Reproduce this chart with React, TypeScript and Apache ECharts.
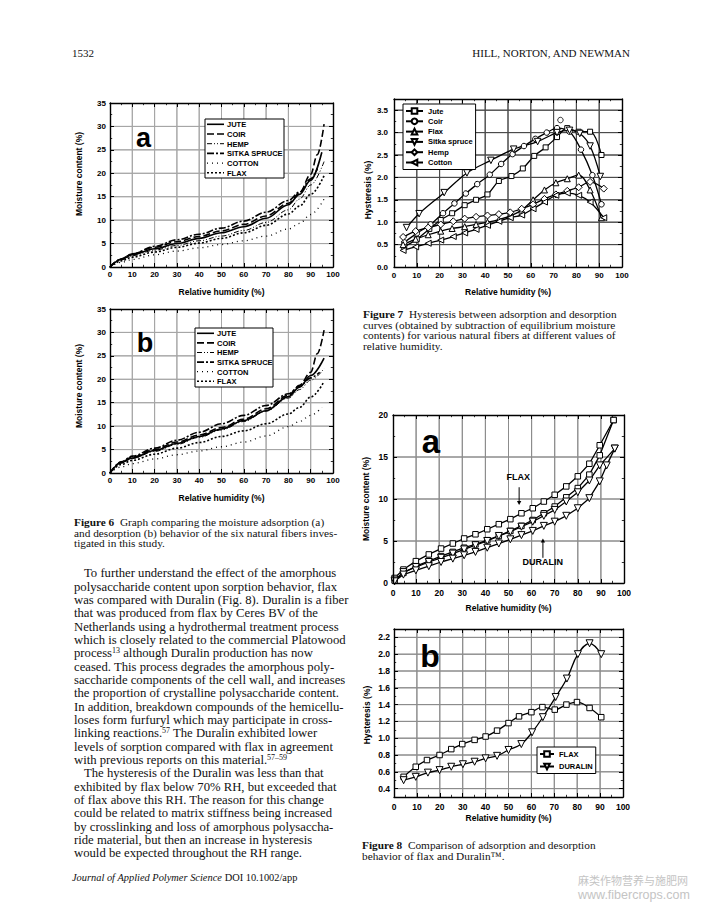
import React, { useEffect, useRef } from "react";
import * as echarts from "echarts";

const SANS = "'Liberation Sans', Arial, Helvetica, sans-serif";
const SERIF = "'Liberation Serif', 'Times New Roman', Times, serif";

/* ---------- Figure 6: moisture content (%) vs relative humidity (%) ---------- */
const fig6Names = ["JUTE", "COIR", "HEMP", "SITKA SPRUCE", "COTTON", "FLAX"];

// (a) adsorption
const adsJute = [[0, 0], [5, 1.6], [10, 2.6], [20, 3.9], [30, 5.0], [40, 6.1], [50, 7.3], [60, 8.6], [70, 10.4], [80, 13.3], [85, 15.5], [90, 18.5], [95, 24.5]];
const adsCoir = [[0, 0], [5, 1.7], [10, 2.8], [20, 4.2], [30, 5.4], [40, 6.5], [50, 7.7], [60, 9.1], [70, 10.9], [80, 13.6], [85, 15.8], [90, 19.8], [93, 24], [96, 30.5]];
const adsHemp = [[0, 0], [5, 1.5], [10, 2.4], [20, 3.6], [30, 4.6], [40, 5.6], [50, 6.6], [60, 7.8], [70, 9.5], [80, 12.2], [85, 14.5], [90, 17.5], [96, 22.5]];
const adsSitka = [[0, 0], [5, 1.7], [10, 2.8], [20, 4.4], [30, 5.8], [40, 7.0], [50, 8.3], [60, 9.8], [70, 11.7], [80, 14.2], [85, 16.0], [90, 18.8], [93, 21.0]];
const adsCotton = [[0, 0], [5, 1.0], [10, 1.6], [20, 2.6], [30, 3.4], [40, 4.1], [50, 4.8], [60, 5.6], [70, 6.6], [80, 8.1], [85, 9.3], [90, 11.2], [96, 14.5]];
const adsFlax = [[0, 0], [5, 1.3], [10, 2.1], [20, 3.2], [30, 4.2], [40, 5.1], [50, 6.1], [60, 7.3], [70, 8.9], [80, 11.3], [85, 13.0], [90, 15.5], [96, 19.5]];

// (b) desorption
const desJute = [[0, 0], [5, 2.2], [10, 3.2], [20, 4.8], [30, 6.3], [40, 7.8], [50, 9.4], [60, 11.2], [70, 13.3], [80, 16.3], [85, 18.3], [90, 20.8], [96, 24.5]];
const desCoir = [[0, 0], [5, 2.3], [10, 3.4], [20, 5.0], [30, 6.6], [40, 8.1], [50, 9.7], [60, 11.5], [70, 13.7], [80, 16.6], [85, 18.7], [90, 21.5], [93, 25.5], [96, 30.5]];
const desHemp = [[0, 0], [5, 2.1], [10, 3.1], [20, 4.6], [30, 6.1], [40, 7.6], [50, 9.2], [60, 11.0], [70, 13.2], [80, 16.0], [85, 17.8], [90, 19.8], [96, 22.3]];
const desSitka = [[0, 0], [5, 2.4], [10, 3.6], [20, 5.3], [30, 7.0], [40, 8.7], [50, 10.5], [60, 12.3], [70, 14.4], [80, 16.9], [85, 18.5], [90, 20.3], [94, 21.5]];
const desCotton = [[0, 0], [5, 1.3], [10, 2.0], [20, 3.0], [30, 3.9], [40, 4.7], [50, 5.6], [60, 6.6], [70, 7.9], [80, 9.9], [85, 11.0], [90, 12.3], [95, 14.0]];
const desFlax = [[0, 0], [5, 1.8], [10, 2.7], [20, 4.0], [30, 5.3], [40, 6.5], [50, 7.8], [60, 9.0], [70, 10.5], [80, 12.6], [85, 14.0], [90, 16.2], [96, 19.5]];

/* ---------- Figure 7: hysteresis (%) vs relative humidity (%) ---------- */
const fig7Names = ["Jute", "Coir", "Flax", "Sitka spruce", "Hemp", "Cotton"];
const hysJute = [[4.5, 0.45], [10, 0.62], [15.5, 0.85], [20.5, 1.05], [25.5, 1.2], [31, 1.38], [36, 1.5], [41, 1.62], [46, 1.92], [51.5, 2.03], [56.5, 2.2], [61.5, 2.48], [66.5, 2.67], [71.5, 2.9], [76, 3.1], [81, 3.02], [86, 3.02], [91, 2.5]];
const hysCoir = [[4.5, 0.55], [10, 0.75], [16, 0.95], [21.5, 1.2], [26.5, 1.42], [31.5, 1.64], [36.5, 1.85], [42, 2.06], [47, 2.3], [52, 2.52], [57, 2.7], [62, 2.86], [67, 3.0], [71.5, 3.1], [77, 3.02], [82, 2.62], [87, 2.05], [91, 1.4]];
const hysCoirOutlier = [[73, 3.28]];
const hysFlax = [[4, 0.5], [9.5, 0.62], [15, 0.72], [20.5, 0.8], [25.5, 0.86], [31, 0.9], [36, 0.95], [41, 1.0], [46, 1.06], [51, 1.14], [56, 1.27], [61, 1.5], [66, 1.72], [71, 1.88], [76, 1.97], [81, 2.05], [86, 1.72], [91, 1.1]];
const hysSitka = [[5.5, 0.88], [11, 1.19], [22, 1.66], [32, 2.1], [42.5, 2.38], [52.5, 2.63], [63, 2.8], [71.5, 3.0], [77, 3.05], [81.5, 2.98], [86, 2.7], [90.5, 2.02]];
const hysHemp = [[4, 0.67], [9.5, 0.8], [15, 0.88], [20.5, 0.95], [26, 1.02], [31, 1.08], [36, 1.12], [41, 1.15], [46, 1.18], [51, 1.22], [56, 1.3], [61, 1.4], [66, 1.52], [71, 1.62], [76, 1.7], [81, 1.78], [86, 1.9], [92, 1.75]];
const hysCotton = [[4, 0.37], [9.5, 0.45], [15, 0.53], [20.5, 0.6], [26, 0.68], [31, 0.76], [36, 0.84], [41, 0.93], [46, 1.02], [51, 1.1], [56, 1.16], [61, 1.3], [66, 1.45], [71, 1.6], [76, 1.65], [81, 1.6], [86, 1.45], [92, 1.1]];

/* ---------- Figure 8: flax vs Duralin ---------- */
// (a) moisture content (%) vs RH (%)
const flaxDes = [[0.7, 0.6], [4.5, 1.6], [9.9, 2.6], [15.5, 3.4], [20.8, 4.1], [25.9, 4.7], [30.8, 5.3], [35.7, 5.8], [40.8, 6.4], [45.8, 7.0], [50.8, 7.6], [55.6, 8.3], [60.5, 8.9], [65.3, 9.7], [70, 10.5], [75, 11.5], [80, 12.7], [85, 14.2], [89.5, 16.4], [95.5, 19.4]];
const flaxAds = [[0.7, 0.3], [4.5, 1.2], [9.9, 2.0], [15.5, 2.6], [20.8, 3.2], [25.9, 3.7], [30.8, 4.2], [35.7, 4.6], [40.8, 5.1], [45.8, 5.6], [50.8, 6.2], [55.6, 6.8], [60.5, 7.5], [65.3, 8.3], [70, 9.1], [75, 10.2], [80, 11.3], [85, 12.9], [89.5, 15.2], [95.5, 19.4]];
const duralinDes = [[0.7, 0.3], [4.5, 1.3], [9.9, 1.9], [15.5, 2.5], [20.8, 3.0], [25.9, 3.5], [30.8, 4.0], [35.7, 4.5], [40.8, 5.0], [45.8, 5.6], [50.8, 6.1], [55.6, 6.7], [60.5, 7.3], [65.3, 8.0], [70, 8.7], [75, 9.7], [80, 10.8], [85, 12.2], [89.5, 14.0], [96, 16.0]];
const duralinAds = [[0.7, 0.2], [4.5, 1.0], [9.9, 1.5], [15.5, 2.0], [20.8, 2.5], [25.9, 2.9], [30.8, 3.3], [35.7, 3.7], [40.8, 4.2], [45.8, 4.7], [50.8, 5.2], [55.6, 5.7], [60.5, 6.2], [65.3, 6.8], [70, 7.3], [75, 8.0], [80, 8.9], [85, 10.1], [89.5, 12.1], [92.5, 14.0], [96, 16.0]];
// (b) hysteresis (%) vs RH (%)
const fig8bNames = ["FLAX", "DURALIN"];
const flaxHys = [[4.2, 0.54], [9.5, 0.66], [14.4, 0.74], [19.9, 0.8], [25, 0.87], [29.8, 0.93], [35.2, 0.98], [40, 1.02], [45, 1.09], [50, 1.18], [54.6, 1.26], [60, 1.31], [64.8, 1.37], [70.2, 1.34], [75.3, 1.4], [79.9, 1.43], [85.4, 1.36], [90.5, 1.25]];
const duralinHys = [[4.2, 0.5], [9.5, 0.54], [14.8, 0.59], [19.9, 0.62], [25, 0.66], [30.1, 0.69], [35.2, 0.72], [40, 0.76], [45, 0.79], [50, 0.86], [55.6, 0.93], [60.3, 1.07], [65, 1.25], [70.6, 1.49], [75.5, 1.71], [80.3, 2.0], [85.4, 2.13], [90.5, 2.0]];

// grid-line positions (inner ticks of each axis)
const rhGridTicks = [10, 20, 30, 40, 50, 60, 70, 80, 90];
const fig6GridTicks = [5, 10, 15, 20, 25, 30];
const fig7GridTicks = [0.5, 1.0, 1.5, 2.0, 2.5, 3.0, 3.5];
const fig8aGridTicks = [5, 10, 15];
const fig8bGridTicks = [0.4, 0.6, 0.8, 1.0, 1.2, 1.4, 1.6, 1.8, 2.0, 2.2];

// annotation anchors in data coordinates of figure 8a
const flaxNote = { text: "FLAX", at: [54.2, 12.6], from: [54.6, 11.4], to: [54.6, 9.3] };
const duralinNote = { text: "DURALIN", at: [64.8, 2.45], from: [64.9, 3.0], to: [64.9, 5.3] };

/* ---------- page text ---------- */
const headerLeft = "1532";
const headerRight = "HILL, NORTON, AND NEWMAN";
const cap6 = [
  "{b|Figure 6}  Graph comparing the moisture adsorption (a)",
  "and desorption (b) behavior of the six natural fibers inves-",
  "tigated in this study.",
];
const cap7 = [
  "{b|Figure 7}  Hysteresis between adsorption and desorption",
  "curves (obtained by subtraction of equilibrium moisture",
  "contents) for various natural fibers at different values of",
  "relative humidity.",
];
const cap8 = [
  "{b|Figure 8}  Comparison of adsorption and desorption",
  "behavior of flax and Duralin™.",
];
const para1 = [
  "To further understand the effect of the amorphous",
  "polysaccharide content upon sorption behavior, flax",
  "was compared with Duralin (Fig. 8). Duralin is a fiber",
  "that was produced from flax by Ceres BV of the",
  "Netherlands using a hydrothermal treatment process",
  "which is closely related to the commercial Platowood",
  "process{s|13} although Duralin production has now",
  "ceased. This process degrades the amorphous poly-",
  "saccharide components of the cell wall, and increases",
  "the proportion of crystalline polysaccharide content.",
  "In addition, breakdown compounds of the hemicellu-",
  "loses form furfuryl which may participate in cross-",
  "linking reactions.{s|57} The Duralin exhibited lower",
  "levels of sorption compared with flax in agreement",
  "with previous reports on this material.{s|57–59}",
];
const para2 = [
  "The hysteresis of the Duralin was less than that",
  "exhibited by flax below 70% RH, but exceeded that",
  "of flax above this RH. The reason for this change",
  "could be related to matrix stiffness being increased",
  "by crosslinking and loss of amorphous polysaccha-",
  "ride material, but then an increase in hysteresis",
  "would be expected throughout the RH range.",
];
const footer = "{i|Journal of Applied Polymer Science} DOI 10.1002/app";
const watermark1 = "麻类作物营养与施肥网";
const watermark2 = "www.fibercrops.com";

/* ---------- styles ---------- */
const fig6Styles: any[] = [
  { type: "solid", dash: null, width: 1.6 },
  { type: [7, 3], dash: [7, 3], width: 1.6 },
  { type: [5, 2, 1, 2, 1, 2], dash: [5, 2, 1, 2, 1, 2], width: 1 },
  { type: [7, 2, 2, 2], dash: [7, 2, 2, 2], width: 1.6 },
  { type: [1, 4], dash: [1, 4], width: 1.3 },
  { type: [2, 2], dash: [2, 2], width: 1.6 },
];
const fig7Marks = [
  { symbol: "rect", size: 5, rotate: 0 },
  { symbol: "circle", size: 5.5, rotate: 0 },
  { symbol: "triangle", size: 6, rotate: 0 },
  { symbol: "triangle", size: 6.5, rotate: 180 },
  { symbol: "diamond", size: 7, rotate: 0 },
  { symbol: "triangle", size: 6, rotate: 90 },
];
const hollow = { color: "#fff", borderColor: "#000", borderWidth: 1 };
const panelGridColors = ["#a6a6a6", "#a6a6a6", "#4a4a4a", "#8c8c8c", "#8c8c8c"];
const DATA_Z = 6;

function axisPair(dim: "x" | "y", grid: number, c: any) {
  const common: any = {
    type: "value",
    gridIndex: grid,
    min: c.min,
    max: c.max,
    axisLine: { show: true, onZero: false, lineStyle: { color: "#000", width: 1.4 } },
    axisTick: { show: true, inside: true, length: 4, lineStyle: { color: "#000", width: 1 } },
    minorTick: { show: true, splitNumber: 2, length: 2.2, lineStyle: { color: "#000", width: 0.8 } },
    splitLine: { show: false },
    z: 8,
  };
  if (c.interval != null) common.interval = c.interval;
  if (c.splitNumber != null) common.splitNumber = c.splitNumber;
  const main: any = {
    ...common,
    position: dim === "x" ? "bottom" : "left",
    axisLabel: {
      show: true,
      margin: c.margin,
      fontFamily: SANS,
      fontWeight: "bold",
      fontSize: c.labelSize,
      color: "#000",
      formatter: c.fmt,
      showMinLabel: c.showMin !== false,
      showMaxLabel: c.showMax !== false,
    },
  };
  if (c.name) {
    main.name = c.name;
    main.nameLocation = "middle";
    main.nameGap = c.nameGap;
    main.nameTextStyle = { fontFamily: SANS, fontWeight: "bold", fontSize: c.nameSize, color: "#000" };
  }
  const mirror = {
    ...common,
    position: dim === "x" ? "top" : "right",
    axisLabel: { show: false },
  };
  return [main, mirror];
}

// grid lines drawn as plain line series through each panel's own axes
function gridSeries(grid: number, xTicks: number[], yTicks: number[], xr: number[], yr: number[]) {
  const base = {
    type: "line",
    xAxisIndex: grid * 2,
    yAxisIndex: grid * 2,
    symbol: "none",
    showSymbol: false,
    silent: true,
    clip: false,
    legendHoverLink: false,
    lineStyle: { color: panelGridColors[grid], width: 1, type: "solid" },
    z: 4,
  };
  const out: any[] = [];
  xTicks.forEach((v, i) => out.push({ ...base, name: `grid${grid}-x${i}`, data: [[v, yr[0]], [v, (yr[0] + yr[1]) / 2], [v, yr[1]]] }));
  yTicks.forEach((v, i) => out.push({ ...base, name: `grid${grid}-y${i}`, data: [[xr[0], v], [(xr[0] + xr[1]) / 2, v], [xr[1], v]] }));
  return out;
}

const intFmt = (v: number) => String(Math.round(v));
const decFmt = (v: number) => v.toFixed(1);

const panels = [
  { xTicks: rhGridTicks, yTicks: fig6GridTicks, xr: [0, 100], yr: [0, 35] },
  { xTicks: rhGridTicks, yTicks: fig6GridTicks, xr: [0, 100], yr: [0, 35] },
  { xTicks: rhGridTicks, yTicks: fig7GridTicks, xr: [0, 100], yr: [0, 3.75] },
  { xTicks: rhGridTicks, yTicks: fig8aGridTicks, xr: [0, 100], yr: [0, 20] },
  { xTicks: rhGridTicks, yTicks: fig8bGridTicks, xr: [0, 100], yr: [0.3, 2.3] },
];

function buildOption() {
  const grids = [
    { left: 110, top: 103, width: 223, height: 164 },
    { left: 110, top: 309, width: 223, height: 164 },
    { left: 394, top: 99, width: 228, height: 168 },
    { left: 393, top: 415, width: 231, height: 168 },
    { left: 394, top: 629, width: 229, height: 168 },
  ];
  const rhX = (nameGap: number, margin: number, labelSize: number) => ({
    min: 0, max: 100, interval: 10, name: "Relative humidity (%)", nameGap, nameSize: 8.5,
    labelSize, margin, fmt: intFmt,
  });
  const xAxes = [
    ...axisPair("x", 0, rhX(20, 3, 8)),
    ...axisPair("x", 1, rhX(20, 3, 8)),
    ...axisPair("x", 2, rhX(20.5, 4, 8)),
    ...axisPair("x", 3, rhX(20, 5, 8.5)),
    ...axisPair("x", 4, rhX(16, 5, 8.5)),
  ];
  const yAxes = [
    ...axisPair("y", 0, { min: 0, max: 35, interval: 5, labelSize: 8, margin: 4, fmt: intFmt }),
    ...axisPair("y", 1, { min: 0, max: 35, interval: 5, labelSize: 8, margin: 4, fmt: intFmt }),
    ...axisPair("y", 2, { min: 0, max: 3.75, interval: 0.5, labelSize: 8, margin: 6, fmt: decFmt, showMax: false }),
    ...axisPair("y", 3, { min: 0, max: 20, interval: 5, labelSize: 8.5, margin: 5, fmt: intFmt }),
    ...axisPair("y", 4, { min: 0.3, max: 2.3, splitNumber: 10, labelSize: 8.5, margin: 4, fmt: decFmt, showMin: false, showMax: false }),
  ];

  const s6 = (data: number[][], i: number, grid: number) => ({
    type: "line",
    name: fig6Names[i],
    xAxisIndex: grid * 2,
    yAxisIndex: grid * 2,
    data,
    symbol: "none",
    showSymbol: false,
    smooth: 0.35,
    smoothMonotone: "x",
    silent: true,
    lineStyle: { color: "#000", width: fig6Styles[i].width, type: fig6Styles[i].type },
    z: DATA_Z,
  });
  const s7 = (data: number[][], i: number) => ({
    type: "line",
    name: fig7Names[i],
    xAxisIndex: 4,
    yAxisIndex: 4,
    data,
    smooth: 0.35,
    silent: true,
    symbol: fig7Marks[i].symbol,
    symbolSize: fig7Marks[i].size,
    symbolRotate: fig7Marks[i].rotate,
    showSymbol: true,
    itemStyle: hollow,
    lineStyle: { color: "#000", width: 1.3 },
    z: DATA_Z,
  });
  const s8 = (name: string, data: number[][], sym: string, rot: number, grid: number, smooth: number) => ({
    type: "line",
    name,
    xAxisIndex: grid * 2,
    yAxisIndex: grid * 2,
    data,
    smooth,
    silent: true,
    symbol: sym,
    symbolSize: sym === "rect" ? 5.5 : 7,
    symbolRotate: rot,
    showSymbol: true,
    itemStyle: hollow,
    lineStyle: { color: "#000", width: 1.3 },
    z: DATA_Z,
  });

  const series: any[] = [
    ...panels.flatMap((p, gi) => gridSeries(gi, p.xTicks, p.yTicks, p.xr, p.yr)),
    s6(adsJute, 0, 0), s6(adsCoir, 1, 0), s6(adsHemp, 2, 0), s6(adsSitka, 3, 0), s6(adsCotton, 4, 0), s6(adsFlax, 5, 0),
    s6(desJute, 0, 1), s6(desCoir, 1, 1), s6(desHemp, 2, 1), s6(desSitka, 3, 1), s6(desCotton, 4, 1), s6(desFlax, 5, 1),
    s7(hysJute, 0), s7(hysCoir, 1), s7(hysFlax, 2), s7(hysSitka, 3), s7(hysHemp, 4), s7(hysCotton, 5),
    {
      type: "scatter", name: "Coir point", xAxisIndex: 4, yAxisIndex: 4, data: hysCoirOutlier,
      symbol: "circle", symbolSize: 5.5, itemStyle: hollow, silent: true, z: DATA_Z,
    },
    s8("Flax desorption", flaxDes, "rect", 0, 3, 0),
    s8("Flax adsorption", flaxAds, "rect", 0, 3, 0),
    s8("Duralin desorption", duralinDes, "triangle", 180, 3, 0),
    s8("Duralin adsorption", duralinAds, "triangle", 180, 3, 0),
    s8("hys-" + fig8bNames[0], flaxHys, "rect", 0, 4, 0.4),
    s8("hys-" + fig8bNames[1], duralinHys, "triangle", 180, 4, 0.4),
  ];

  const legendText = { fontFamily: SANS, fontWeight: "bold", fontSize: 7.5, color: "#000" };
  const legend = [
    {
      left: 403, top: 104, orient: "vertical", data: fig7Names, selectedMode: false,
      itemWidth: 17, itemHeight: 7, itemGap: 2.3, padding: [3, 3, 3, 2],
      borderColor: "#000", borderWidth: 1, backgroundColor: "#fff", textStyle: legendText, z: 20,
    },
    {
      left: 537, top: 747, orient: "vertical", data: fig8bNames.map((n) => "hys-" + n), selectedMode: false,
      itemWidth: 14, itemHeight: 7, itemGap: 4.5, padding: [3, 3, 3, 2],
      borderColor: "#000", borderWidth: 1, backgroundColor: "#fff", textStyle: legendText, z: 20,
      formatter: (n: string) => n.replace("hys-", ""),
    },
  ];

  return {
    animation: false,
    backgroundColor: "#fff",
    textStyle: { fontFamily: SANS },
    grid: grids,
    xAxis: xAxes,
    yAxis: yAxes,
    legend,
    series,
  };
}

function txt(text: string, x: number, y: number, font: string, align = "left", extra: any = {}, el: any = {}) {
  return {
    type: "text",
    x,
    y,
    z: 50,
    silent: true,
    ...el,
    style: {
      text,
      font,
      fill: "#111",
      align,
      textAlign: align,
      verticalAlign: "middle",
      textVerticalAlign: "middle",
      ...extra,
    },
  };
}

function buildGraphic(chart: any) {
  const g: any[] = [];
  const capSize = 11.3;
  const capFont = `${capSize}px ${SERIF}`;
  const bodySize = 12.7;
  const bodyFont = `${bodySize}px ${SERIF}`;
  const richCap = {
    b: { fontFamily: SERIF, fontSize: capSize, fontWeight: "bold", fill: "#111" },
  };
  const richBody = {
    s: { fontFamily: SERIF, fontSize: 8, verticalAlign: "top", fill: "#111" },
    i: { fontFamily: SERIF, fontSize: 10.4, fontStyle: "italic", fill: "#111" },
  };

  // grid lines again as graphic lines placed through the axes' own pixel conversion
  panels.forEach((p, gi) => {
    const f = { xAxisIndex: gi * 2, yAxisIndex: gi * 2 };
    const col = panelGridColors[gi];
    p.xTicks.forEach((v) => {
      const a = chart.convertToPixel(f, [v, p.yr[0]]);
      const b = chart.convertToPixel(f, [v, p.yr[1]]);
      if (a && b) g.push({ type: "line", z: 5, silent: true, shape: { x1: a[0], y1: a[1], x2: b[0], y2: b[1] }, style: { stroke: col, lineWidth: 1 } });
    });
    p.yTicks.forEach((v) => {
      const a = chart.convertToPixel(f, [p.xr[0], v]);
      const b = chart.convertToPixel(f, [p.xr[1], v]);
      if (a && b) g.push({ type: "line", z: 5, silent: true, shape: { x1: a[0], y1: a[1], x2: b[0], y2: b[1] }, style: { stroke: col, lineWidth: 1 } });
    });
  });

  // running header
  g.push(txt(headerLeft, 72, 53, `11px ${SERIF}`));
  g.push(txt(headerRight, 630, 53, `11px ${SERIF}`, "right"));

  // panel letters
  const big = (s: string, x: number, y: number, size: number) => txt(s, x, y, `bold ${size}px ${SANS}`, "center", { fill: "#000" });
  g.push(big("a", 143.5, 138, 27));
  g.push(big("b", 145, 343, 27));
  g.push(big("a", 431, 441, 33));
  g.push(big("b", 430, 656, 32));

  // y-axis titles (rotated)
  const yName = (s: string, x: number, y: number) =>
    txt(s, x, y, `bold 8.5px ${SANS}`, "center", { fill: "#000" }, { rotation: Math.PI / 2 });
  g.push(yName("Moisture content (%)", 79, 174));
  g.push(yName("Moisture content (%)", 79, 386));
  g.push(yName("Hysteresis (%)", 368, 190));
  g.push(yName("Moisture content (%)", 366, 499));
  g.push(yName("Hysteresis (%)", 367, 715));

  // Figure 6 legends (line styles only)
  const legend6 = (bx: number, by: number, bw: number, bh: number, lx: number, ty: number, pitch: number) => {
    g.push({ type: "rect", z: 40, silent: true, shape: { x: bx, y: by, width: bw, height: bh }, style: { fill: "#fff", stroke: "#000", lineWidth: 1 } });
    fig6Names.forEach((n, i) => {
      const y = ty + i * pitch;
      g.push({
        type: "line", z: 41, silent: true,
        shape: { x1: lx, y1: y, x2: lx + 17, y2: y },
        style: { stroke: "#000", lineWidth: fig6Styles[i].width, lineDash: fig6Styles[i].dash },
      });
      g.push(txt(n, lx + 20, y + 0.3, `bold 7.5px ${SANS}`, "left", { fill: "#000" }, { z: 42 }));
    });
  };
  legend6(205, 119, 79, 59, 207, 124.3, 9.7);
  legend6(195, 328, 78, 59, 197, 333.3, 9.6);

  // Figure 8a annotations
  const note = (n: any) => {
    const at = chart.convertToPixel({ xAxisIndex: 6, yAxisIndex: 6 }, n.at);
    const p0 = chart.convertToPixel({ xAxisIndex: 6, yAxisIndex: 6 }, n.from);
    const p1 = chart.convertToPixel({ xAxisIndex: 6, yAxisIndex: 6 }, n.to);
    g.push(txt(n.text, at[0], at[1], `bold 9px ${SANS}`, "center", { fill: "#000" }));
    const dir = p1[1] > p0[1] ? 1 : -1;
    g.push({ type: "line", z: 45, silent: true, shape: { x1: p0[0], y1: p0[1], x2: p1[0], y2: p1[1] - dir * 3 }, style: { stroke: "#000", lineWidth: 1 } });
    g.push({
      type: "polygon", z: 45, silent: true,
      shape: { points: [[p1[0] - 2.2, p1[1] - dir * 4], [p1[0] + 2.2, p1[1] - dir * 4], [p1[0], p1[1]]] },
      style: { fill: "#000" },
    });
  };
  note(flaxNote);
  note(duralinNote);

  // captions
  cap6.forEach((l, i) => g.push(txt(l, 74, 522 + i * 10.7, capFont, "left", { rich: richCap })));
  cap7.forEach((l, i) => g.push(txt(l, 363, 314 + i * 10.7, capFont, "left", { rich: richCap })));
  cap8.forEach((l, i) => g.push(txt(l, 362, 844.5 + i * 11, capFont, "left", { rich: richCap })));

  // body text
  para1.forEach((l, i) => g.push(txt(l, i === 0 ? 84 : 74, 573.3 + i * 13.33, bodyFont, "left", { rich: richBody })));
  para2.forEach((l, i) => g.push(txt(l, i === 0 ? 84 : 74, 773.3 + i * 13.33, bodyFont, "left", { rich: richBody })));

  // footer
  g.push(txt(footer, 72, 877, `10.4px ${SERIF}`, "left", { rich: richBody }));

  // watermark
  g.push(txt(watermark1, 578, 880, `11px 'Noto Sans CJK SC', sans-serif`, "left", { fill: "#c4c4c4" }));
  g.push(txt(watermark2, 578, 894.5, `12.5px ${SANS}`, "left", { fill: "#c4c4c4" }));

  return g;
}

export default function App() {
  const ref = useRef<HTMLDivElement>(null);
  useEffect(() => {
    if (!ref.current) return;
    const chart = echarts.init(ref.current, null, { renderer: "svg" });
    chart.setOption(buildOption() as any);
    chart.setOption({ graphic: { elements: buildGraphic(chart) } } as any);
    return () => chart.dispose();
  }, []);
  return (
    <div
      ref={ref}
      style={{ position: "absolute", left: 0, top: 0, width: 703, height: 905, background: "#fff" }}
    />
  );
}
